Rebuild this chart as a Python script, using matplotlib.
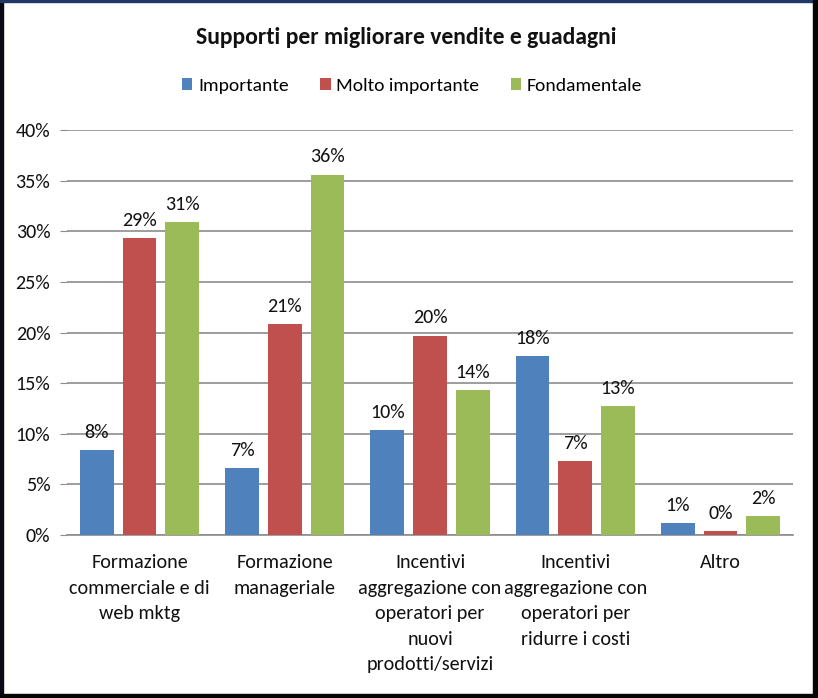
import matplotlib
matplotlib.use("Agg")
import matplotlib.pyplot as plt
from matplotlib.patches import Rectangle
import numpy as np

plt.rcParams['font.family'] = ['Carlito', 'Lato', 'DejaVu Sans']

# data (percent)
categories = ["Formazione\ncommerciale e di\nweb mktg",
              "Formazione\nmanageriale",
              "Incentivi\naggregazione con\noperatori per\nnuovi\nprodotti/servizi",
              "Incentivi\naggregazione con\noperatori per\nridurre i costi",
              "Altro"]
series = ["Importante", "Molto importante", "Fondamentale"]
importante = [8.4, 6.6, 10.4, 17.7, 1.2]
molto_importante = [29.3, 20.8, 19.7, 7.3, 0.4]
fondamentale = [30.9, 35.6, 14.3, 12.7, 1.9]
colors = ["#4F81BD", "#C0504D", "#9BBB59"]

W, H = 818, 698
fig = plt.figure(figsize=(W / 100, H / 100), dpi=100)
ax = fig.add_axes([67 / W, 1 - 535 / H, (793 - 67) / W, (535 - 130) / H])

x = np.arange(len(categories))
step = 0.294
width = 0.232
bars = []
for i, (vals, name, c) in enumerate(zip([importante, molto_importante, fondamentale], series, colors)):
    b = ax.bar(x + (i - 1) * step, vals, width, color=c, label=name, zorder=3)
    bars.append(b)
    for xi, v in zip(x + (i - 1) * step, vals):
        ax.text(xi, v + 0.9, f"{v:.0f}%", ha='center', va='bottom', fontsize=14.5, color='#111111')

ax.set_xlim(-0.5, len(categories) - 0.5)
ax.set_ylim(0, 40)
ax.set_yticks(np.arange(0, 41, 5))
ax.set_yticklabels([f"{t}%" for t in range(0, 41, 5)], fontsize=14.5, color='#111111')
ax.yaxis.grid(True, color='#8c8c8c', linewidth=1.2, zorder=0)
ax.tick_params(axis='y', length=5, color='#8c8c8c', pad=7)
ax.set_xticks(x)
ax.set_xticklabels(categories, fontsize=14.5, color='#111111', linespacing=1.6, va='top')
ax.tick_params(axis='x', length=0, pad=14)
for s in ['top', 'right', 'left']:
    ax.spines[s].set_visible(False)
ax.spines['bottom'].set_color('#8c8c8c')
ax.spines['bottom'].set_linewidth(1.2)

fig.text(406 / W, 1 - 37 / H, "Supporti per migliorare vendite e guadagni",
         ha='center', va='center', fontsize=17, fontweight='bold', color='#111111')
fig.legend(handles=bars, labels=series, loc='center', bbox_to_anchor=(412 / W, 1 - 86 / H),
           ncol=3, frameon=False, fontsize=14, handlelength=0.55, handleheight=0.55,
           handletextpad=0.3, columnspacing=1.6)

# outer frame with shadow on the right and bottom
fig.add_artist(Rectangle((0, 0), 3 / W, 1, transform=fig.transFigure, color='#0a0a14', zorder=10))
fig.add_artist(Rectangle((0, 1 - 2 / H), 1, 2 / H, transform=fig.transFigure, color='#1f3864', zorder=10))
fig.add_artist(Rectangle((1 - 5 / W, 0), 5 / W, 1, transform=fig.transFigure, color='#050505', zorder=10))
fig.add_artist(Rectangle((0, 0), 1, 4 / H, transform=fig.transFigure, color='#050505', zorder=10))

fig.savefig("out.png", dpi=100)
